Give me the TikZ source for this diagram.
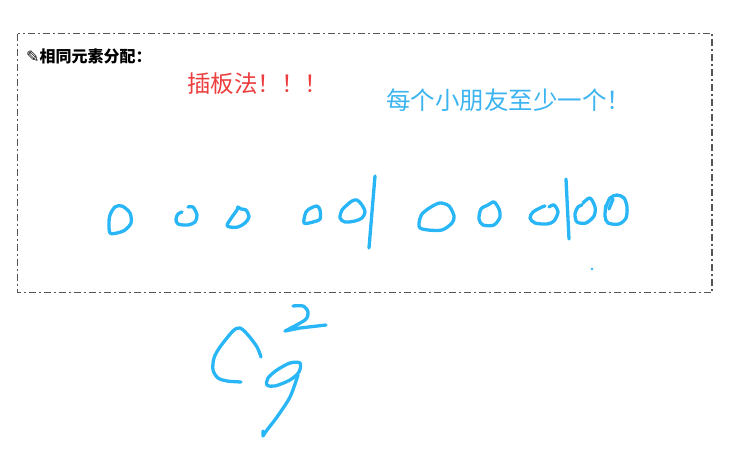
\documentclass[tikz,border=0pt]{standalone}
\usepackage{fontspec}
\newfontfamily\cjk{Noto Sans CJK SC}
\newfontfamily\dejavu{DejaVu Sans}
\definecolor{inkblue}{RGB}{41,182,246}
\definecolor{txtblue}{RGB}{60,180,240}
\definecolor{txtred}{RGB}{236,62,62}
\definecolor{boxgray}{RGB}{85,85,85}
\tikzset{
  ink/.style={draw=inkblue, line width=3.3pt, line cap=round, line join=round},
  framebox/.style={draw=boxgray, line width=1.3pt, dash pattern=on 7pt off 3pt on 2pt off 3pt},
  label/.style={inner sep=0pt, anchor=west},
}
\begin{document}
\begin{tikzpicture}[x=1pt,y=-1pt]
\useasboundingbox (0,0) rectangle (732,461);
% frame
\draw[framebox] (17.5,33.5) rectangle (712,292.5);
% texts
\node[label] (title) at (26,56) {\fontsize{16}{18}\selectfont{\dejavu\bfseries ✎}{\cjk\bfseries 相同元素分配：}};
\node[label, text=txtred] (method) at (187,84) {\fontsize{23.5}{26}\selectfont\cjk 插板法！！！};
\node[label, text=txtblue] (rule) at (386,100) {\fontsize{24.5}{27}\selectfont\cjk 每个小朋友至少一个！};
% balls
\draw[ink] plot[smooth cycle] coordinates {(115,207) (122,206) (130,213) (131,223) (125,230) (117,233) (110,233) (109,223) (110,215)};
\draw[ink] plot[smooth] coordinates {(188,207) (193,207) (197,215) (195,222) (188,225) (178,224) (176,219) (178,214) (182,212)};
\draw[ink] plot[smooth cycle] coordinates {(227,225) (232,217) (237,210) (238,207) (241,209) (246,210) (249,217) (245,223) (238,227) (230,227)};
\draw[ink] plot[smooth cycle] coordinates {(304,223) (306,212) (311,208) (317,206) (320,210) (320,219) (313,222)};
\draw[ink] plot[smooth cycle] coordinates {(340,218) (342,210) (347,205) (352,201) (357,200) (362,205) (365,212) (362,218) (355,221) (345,222)};
\coordinate (b1t) at (375,176);
\coordinate (b1b) at (369,248);
\draw[ink] (b1t) -- (b1b);
\draw[ink] plot[smooth cycle] coordinates {(419,223) (422,214) (431,207) (440,203) (449,206) (454,216) (452,223) (442,230) (428,230) (420,228)};
\draw[ink] plot[smooth cycle] coordinates {(479,219) (481,209) (488,205) (494,202) (499,209) (500,217) (494,225) (483,225)};
\draw[ink] plot[smooth] coordinates {(549,207) (554,205) (558,212) (554,221) (547,224) (535,223) (530,218) (533,212) (542,207) (545,206)};
\coordinate (b2t) at (566,179);
\coordinate (b2b) at (569,239);
\draw[ink] (b2t) -- (b2b);
\draw[ink] plot[smooth] coordinates {(583,203) (590,198) (595,207) (594,216) (586,223) (577,222) (575,214) (578,207) (582,205)};
\draw[ink] plot[smooth] coordinates {(606,207) (610,198) (617,195) (624,198) (627,207) (626,218) (619,224) (608,223) (605,216) (606,205)};
\draw[ink] (613,199) -- (609,209);
\fill[inkblue] (592,269) circle (1.3);
% C^2_9
\draw[ink] plot[smooth] coordinates {(261,357) (257,347) (248,335) (240,328) (233,331) (220,347) (214,358) (213,370) (218,378) (227,381) (241,382)};
\draw[ink] plot[smooth] coordinates {(293,306) (303,306) (308,312) (305,320) (285,331)} -- (300,328) -- (326,325);
\draw[ink] plot[smooth cycle] coordinates {(300,363) (290,363) (277,370) (268,378) (267,385) (275,386) (290,380) (299,372)};
\draw[ink] plot[smooth] coordinates {(298,375) (290,397) (277,417) (267,430) (263,436)} -- (263,431);
\end{tikzpicture}
\end{document}
